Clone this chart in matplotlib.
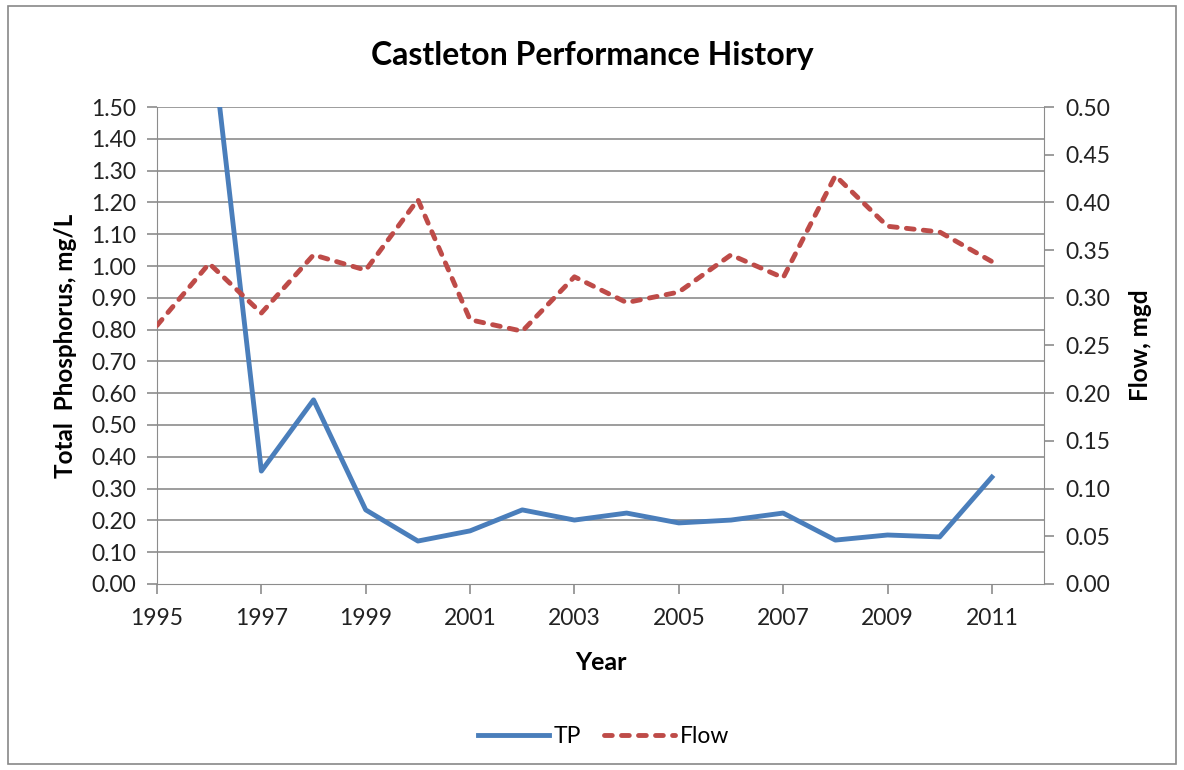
import numpy as np
import matplotlib.pyplot as plt
from matplotlib.patches import Rectangle

plt.rcParams['font.family'] = ['Lato', 'DejaVu Sans']

years = list(range(1995, 2012))
tp = [np.nan, 1.79, 0.355, 0.579, 0.233, 0.135, 0.167, 0.233, 0.201,
      0.223, 0.192, 0.201, 0.223, 0.138, 0.154, 0.148, 0.336]
flow = [0.271, 0.336, 0.284, 0.345, 0.329, 0.403, 0.277, 0.265, 0.322,
        0.295, 0.306, 0.345, 0.321, 0.428, 0.375, 0.369, 0.338]

fig = plt.figure(figsize=(11.84, 7.70), dpi=100)
fig.patches.append(Rectangle((0.007, 0.008), 0.986, 0.984, transform=fig.transFigure,
                             fill=False, edgecolor='#888888', lw=1.2))
ax = fig.add_axes([0.1326, 0.2416, 0.7492, 0.6194])
ax2 = ax.twinx()

grid = '#8c8c8c'
for y in np.arange(0.1, 1.51, 0.1):
    ax.axhline(y, color=grid, lw=1.2, zorder=0)

l1, = ax.plot(years, tp, color='#4a7ebb', lw=3.5, label='TP')
l2, = ax2.plot(years, flow, color='#be4b48', lw=3.5, ls=(0, (1.6, 1.9)),
               dash_capstyle='round', label='Flow')

ax.set_xlim(1995, 2012)
ax.set_ylim(0, 1.5)
ax2.set_ylim(0, 0.5)
ax.set_xticks(range(1995, 2012, 2))
ax.set_yticks(np.arange(0, 1.51, 0.1))
ax.set_yticklabels(['%.2f' % v for v in np.arange(0, 1.51, 0.1)])
ax2.set_yticks(np.arange(0, 0.51, 0.05))
ax2.set_yticklabels(['%.2f' % v for v in np.arange(0, 0.51, 0.05)])

for a in (ax, ax2):
    for s in a.spines.values():
        s.set_visible(False)
    a.tick_params(labelsize=16.5, length=7, width=1.2, color=grid, labelcolor='#222222')
ax.spines['left'].set_visible(True)
ax.spines['left'].set_color(grid)
ax.spines['bottom'].set_visible(True)
ax.spines['bottom'].set_color(grid)
ax2.spines['right'].set_visible(True)
ax2.spines['right'].set_color(grid)
ax.tick_params(axis='x', pad=10)
ax.tick_params(axis='y', pad=8)
ax2.tick_params(axis='y', pad=8)

ax.set_xlabel('Year', fontsize=18, fontweight='bold', labelpad=16)
ax.set_ylabel('Total  Phosphorus, mg/L', fontsize=17.5, fontweight='bold', labelpad=10)
ax2.set_ylabel('Flow, mgd', fontsize=17.5, fontweight='bold', labelpad=14)
fig.text(0.5, 0.928, 'Castleton Performance History', fontsize=23, fontweight='bold',
         ha='center', va='center')

fig.legend([l1, l2], ['TP', 'Flow'], loc='center', bbox_to_anchor=(0.51, 0.044),
           ncol=2, frameon=False, fontsize=16.5, handlelength=3.1, columnspacing=1.0,
           handletextpad=0.2)

fig.savefig('out.png', dpi=100)
